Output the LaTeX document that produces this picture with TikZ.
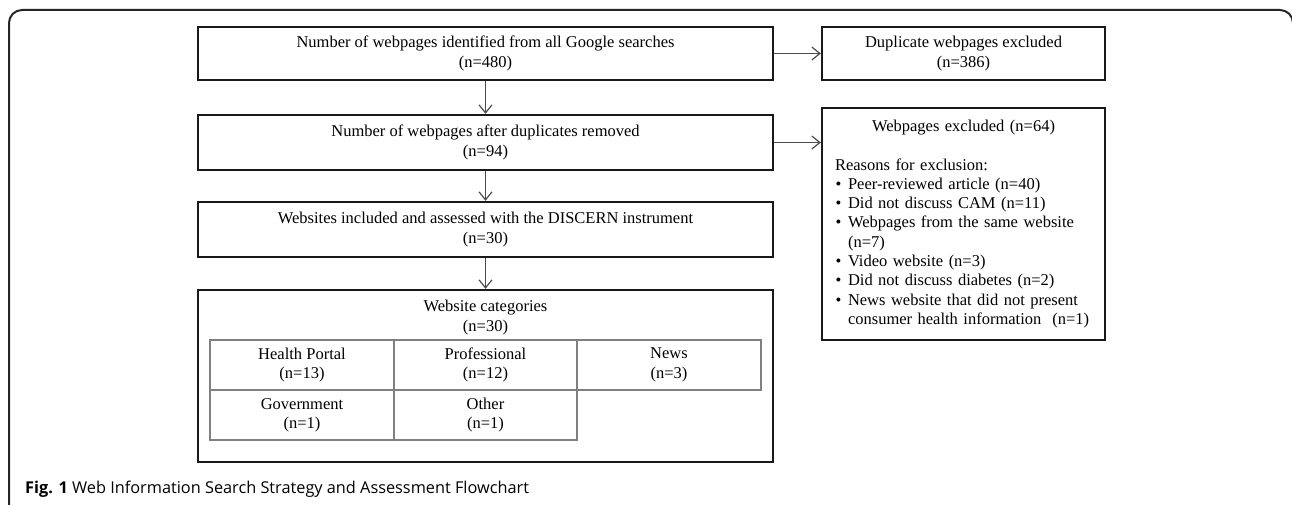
\documentclass[tikz,border=0pt]{standalone}
\usepackage{fontspec}
\setmainfont{Liberation Serif}
\newfontfamily\capfont{Open Sans}
\usetikzlibrary{arrows.meta}
\newcommand\diagfont{\fontsize{16.5}{19.3}\selectfont}
\newcommand\blt{\hangindent=13pt\hangafter=1\noindent\makebox[13pt][l]{\hspace{0.5pt}\textbullet}}
\begin{document}
\begin{tikzpicture}[x=1pt,y=-1pt,
  box/.style={draw=black!90, line width=2.4pt, rectangle, inner sep=0pt, align=center, font=\diagfont},
  cell/.style={draw=black!50, line width=1.1pt, rectangle, inner sep=0pt, align=center, minimum height=50pt, font=\diagfont},
  arr/.style={draw=black!70, line width=1.2pt, -{Straight Barb[length=8pt,width=13pt]}},
  frame/.style={draw=black!85, line width=2pt, rounded corners=13pt}]
\useasboundingbox (0,0) rectangle (1292,505);
\begin{scope}
\clip (0,0) rectangle (1292,505);
\draw[frame] (9,510) -- (9,10) -- (1293,10) -- (1293,510);
\end{scope}

\node[box, minimum width=575pt, minimum height=53pt] (b1) at (485.5,53.5) {Number of webpages identified from all Google searches\\(n=480)};
\node[box, minimum width=575pt, minimum height=55pt] (b2) at (485.5,142.5) {Number of webpages after duplicates removed\\(n=94)};
\node[box, minimum width=575pt, minimum height=55pt] (b3) at (485.5,229.5) {Websites included and assessed with the DISCERN instrument\\(n=30)};
\node[box, minimum width=575pt, minimum height=172pt] (b4) at (485.5,376) {};
\node[font=\diagfont, align=center, inner sep=0pt] (cattitle) at (485.5,317.5) {Website categories\\(n=30)};

\node[cell, minimum width=184pt] (hp) at (302,365) {Health Portal\\(n=13)};
\node[cell, minimum width=183pt] (pro) at (485.5,365) {Professional\\(n=12)};
\node[cell, minimum width=184pt] (news) at (669,365) {News\\(n=3)};
\node[cell, minimum width=184pt] (gov) at (302,415) {Government\\(n=1)};
\node[cell, minimum width=183pt] (oth) at (485.5,415) {Other\\(n=1)};

\node[box, minimum width=283pt, minimum height=53pt] (dup) at (963.5,53.5) {Duplicate webpages excluded\\(n=386)};
\node[box, align=left, text width=257pt, inner xsep=13pt, inner ysep=0pt, minimum height=232pt] (excl) at (963.5,224) {%
{\centering Webpages excluded (n=64)\par}\vspace{19.3pt}
Reasons for exclusion:\par
\blt Peer-reviewed article (n=40)\par
\blt Did not discuss CAM (n=11)\par
\blt Webpages from the same website\break (n=7)\par
\blt Video website (n=3)\par
\blt Did not discuss diabetes (n=2)\par
\blt News website that did not present\break consumer health information\ \ (n=1)\par};

\draw[arr] (b1.east) -- (b1.east -| dup.west);
\draw[arr] (b2.east) -- (b2.east -| excl.west);
\draw[arr] (b1.south) -- (b2.north);
\draw[arr] (b2.south) -- (b3.north);
\draw[arr] (b3.south) -- (b4.north);

\node[anchor=base west, inner sep=0pt, font=\capfont\fontsize{16.3}{19}\selectfont] (cap) at (25,493) {\textbf{Fig. 1} Web Information Search Strategy and Assessment Flowchart};
\end{tikzpicture}
\end{document}
